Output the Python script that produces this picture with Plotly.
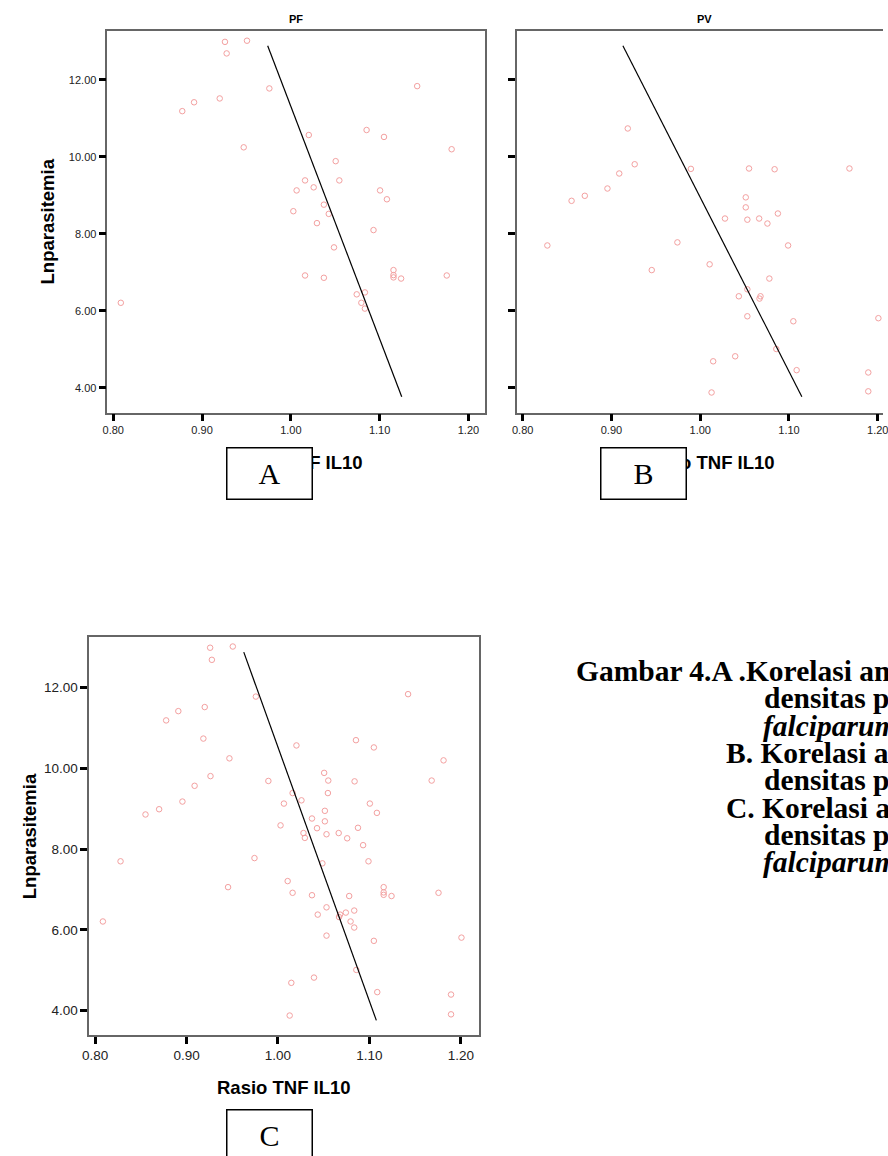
import plotly.graph_objects as go

# ---------------- data ----------------
# Panel A : PF (Plasmodium falciparum)
pf_ratio = [0.9258, 0.9506, 0.9277, 0.9758, 1.1423, 0.9199, 0.8910, 0.8777,
            1.0202, 1.0853, 1.1049, 0.9469, 1.1811, 1.0505, 1.0546, 1.0160,
            1.0065, 1.0257, 1.1005, 1.1082, 1.0372, 1.0028, 1.0427, 1.0294,
            1.0931, 1.0486, 1.0160, 1.0372, 1.1156, 1.1156, 1.1156, 1.1242,
            1.1756, 1.0742, 1.0834, 1.0794, 1.0834, 0.8085]
pf_lnpara = [12.99, 13.02, 12.69, 11.78, 11.84, 11.52, 11.42, 11.19,
             10.57, 10.70, 10.52, 10.25, 10.20, 9.89, 9.39, 9.39,
             9.13, 9.21, 9.13, 8.90, 8.76, 8.59, 8.52, 8.28,
             8.10, 7.65, 6.92, 6.86, 7.06, 6.93, 6.87, 6.84,
             6.92, 6.43, 6.48, 6.21, 6.06, 6.21]

# Panel B : PV (Plasmodium vivax)
pv_ratio = [0.9184, 0.9262, 0.9088, 0.8955, 0.8700, 0.8551, 0.8278, 0.9895,
            1.0550, 1.0838, 1.1681, 1.0513, 1.0513, 1.0279, 1.0531, 1.0664,
            1.0875, 1.0757, 0.9743, 1.0990, 0.9454, 1.0106, 1.0779, 1.0531,
            1.0435, 1.0668, 1.0679, 1.0531, 1.1049, 1.2007, 1.0857, 1.0146,
            1.0394, 1.1086, 1.1893, 1.0128, 1.1893]
pv_lnpara = [10.74, 9.81, 9.57, 9.18, 8.99, 8.86, 7.70, 9.69,
             9.70, 9.68, 9.70, 8.95, 8.69, 8.40, 8.37, 8.40,
             8.53, 8.27, 7.78, 7.70, 7.06, 7.21, 6.84, 6.56,
             6.38, 6.32, 6.38, 5.86, 5.73, 5.81, 5.01, 4.69,
             4.82, 4.46, 4.40, 3.88, 3.91]

# Panel C : all cases (PF + PV)
all_ratio = pf_ratio + pv_ratio
all_lnpara = pf_lnpara + pv_lnpara

# fit lines (end points)
pf_fit_ratio = [0.9739, 1.1249]
pf_fit_lnpara = [12.89, 3.77]
pv_fit_ratio = [0.9129, 1.1145]
pv_fit_lnpara = [12.89, 3.77]
all_fit_ratio = [0.9626, 1.1076]
all_fit_lnpara = [12.88, 3.76]

x_ticks = [0.80, 0.90, 1.00, 1.10, 1.20]
x_tick_labels = ["0.80", "0.90", "1.00", "1.10", "1.20"]
y_ticks = [4, 6, 8, 10, 12]
y_tick_labels = ["4.00", "6.00", "8.00", "10.00", "12.00"]

panel_titles = ["PF", "PV"]
x_title = "Rasio TNF IL10"
y_title = "Lnparasitemia"
box_letters = ["A", "B", "C"]
caption_lines = [
    "Gambar 4.A .Korelasi antara rasio TNF IL10 dengan",
    "densitas parasit malaria",
    "falciparum",
    "B. Korelasi antara rasio TNF IL10 dengan",
    "densitas parasit malaria vivax",
    "C. Korelasi antara rasio TNF IL10 dengan",
    "densitas parasit malaria",
    "falciparum dan vivax",
]

# ---------------- layout helpers ----------------
W, H = 888, 1156


def px(x):
    return x / W


def py(y):
    return 1 - y / H


MARK = "#f3a0a0"
SANS = "Arial, Liberation Sans, sans-serif"
SERIF = "Times New Roman, Liberation Serif, serif"

fig = go.Figure()

panels = [
    (pf_ratio, pf_lnpara, pf_fit_ratio, pf_fit_lnpara, "x", "y"),
    (pv_ratio, pv_lnpara, pv_fit_ratio, pv_fit_lnpara, "x2", "y2"),
    (all_ratio, all_lnpara, all_fit_ratio, all_fit_lnpara, "x3", "y3"),
]
for xs, ys, fx, fy, xa, ya in panels:
    fig.add_trace(go.Scatter(
        x=xs, y=ys, mode="markers", xaxis=xa, yaxis=ya,
        marker=dict(symbol="circle-open", size=5.5, color=MARK,
                    line=dict(width=1, color=MARK)),
        hoverinfo="skip", showlegend=False))
    fig.add_trace(go.Scatter(
        x=fx, y=fy, mode="lines", xaxis=xa, yaxis=ya,
        line=dict(color="black", width=1.2),
        hoverinfo="skip", showlegend=False))


def xaxis(domain, rng, anchor, fsize, mirror=True):
    return dict(domain=domain, range=rng, anchor=anchor,
                tickmode="array", tickvals=x_ticks, ticktext=x_tick_labels,
                ticks="outside", ticklen=7, tickwidth=3, tickcolor="black",
                tickfont=dict(family=SANS, size=fsize, color="#222"),
                ticklabeloverflow="allow",
                showline=True, linecolor="#666", linewidth=1.5,
                mirror=mirror, showgrid=False, zeroline=False)


def yaxis(domain, rng, anchor, fsize, labels=True, mirror=True):
    return dict(domain=domain, range=rng, anchor=anchor,
                tickmode="array", tickvals=y_ticks, ticktext=y_tick_labels,
                showticklabels=labels,
                ticks="outside", ticklen=7, tickwidth=3, tickcolor="black",
                tickfont=dict(family=SANS, size=fsize, color="#222"),
                showline=True, linecolor="#666", linewidth=1.5,
                mirror=mirror, showgrid=False, zeroline=False)


yA = [py(412.5), py(30.7)]
fig.update_layout(
    xaxis=xaxis([px(101.7), px(484.3)], [0.7933, 1.2184], "y", 11),
    yaxis=yaxis(yA, [3.36, 13.28], "x", 11),
    xaxis2=xaxis([px(516.7), 1.0], [0.7933, 1.2059], "y2", 11),
    yaxis2=yaxis(yA, [3.36, 13.28], "x2", 11, labels=False, mirror=False),
    xaxis3=xaxis([px(83.3), px(478.3)], [0.7935, 1.2197], "y3", 13.5),
    yaxis3=yaxis([py(1035), py(636.7)], [3.398, 13.263], "x3", 13.5),
)

ann = []
# panel titles
ann.append(dict(text="<b>%s</b>" % panel_titles[0], x=px(293), y=py(19)))
ann.append(dict(text="<b>%s</b>" % panel_titles[1], x=px(707), y=py(19)))
for a in ann:
    a.update(xref="paper", yref="paper", showarrow=False,
             xanchor="center", yanchor="middle",
             font=dict(family=SANS, size=11, color="black"))

# axis titles
for xx, yy in [(293, 462), (711, 462), (281, 1087)]:
    ann.append(dict(text="<b>%s</b>" % x_title, x=px(xx), y=py(yy),
                    xref="paper", yref="paper", showarrow=False,
                    xanchor="center", yanchor="middle",
                    font=dict(family=SANS, size=18.5, color="black")))
for xx, yy in [(42, 221), (22.5, 836)]:
    ann.append(dict(text="<b>%s</b>" % y_title, x=px(xx), y=py(yy),
                    textangle=-90,
                    xref="paper", yref="paper", showarrow=False,
                    xanchor="center", yanchor="middle",
                    font=dict(family=SANS, size=18.5, color="black")))

# letter boxes (drawn after the axis titles so they cover them)
for letter, cx, cy in zip(box_letters, [266, 645, 266], [474, 474, 1135]):
    ann.append(dict(text=letter, x=px(cx), y=py(cy),
                    xref="paper", yref="paper", showarrow=False,
                    xanchor="center", yanchor="middle",
                    width=84, height=50, align="center", valign="middle",
                    bgcolor="white", bordercolor="black", borderwidth=1.5,
                    borderpad=0,
                    font=dict(family=SERIF, size=30, color="black")))

# caption (runs off the right edge as in the original)
cap_x = [575, 765, 764, 727, 765, 727, 765, 764]
cap_y = [671 + 27.3 * i for i in range(len(caption_lines))]
for i, (line, cx, cy) in enumerate(zip(caption_lines, cap_x, cap_y)):
    txt = "<b>%s</b>" % line
    if line.startswith("falciparum"):
        txt = "<b><i>%s</i></b>" % line
    ann.append(dict(text=txt, x=px(cx), y=py(cy),
                    xref="paper", yref="paper", showarrow=False,
                    xanchor="left", yanchor="middle", align="left",
                    font=dict(family=SERIF, size=29.5, color="black")))

fig.update_layout(
    annotations=ann,
    width=W, height=H,
    margin=dict(l=0, r=0, t=0, b=0),
    paper_bgcolor="white", plot_bgcolor="white",
    showlegend=False,
)

fig.write_html(
    "out.html",
    config={"displayModeBar": False},
    post_script="document.body.style.margin='0px';"
                "document.body.style.overflow='hidden';",
)
